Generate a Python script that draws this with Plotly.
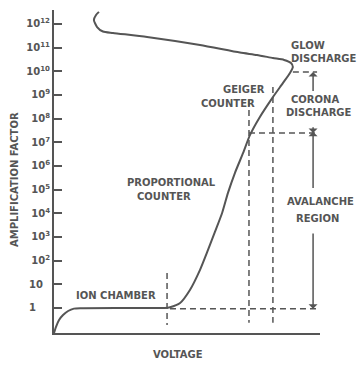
import plotly.graph_objects as go

# Characteristic curve: applied voltage (arbitrary units) vs log10 of amplification factor
voltage = [0, 0.75, 1.9, 3.4, 5.3, 7.5, 9.8, 24.8, 41.7, 43.6, 47.4, 51.1, 54.9, 57.9,
           60.5, 63.2, 65.4, 68.0, 71.1, 73.7, 77.4, 82.3, 86.1, 88.7, 89.8,
           89.1, 86.5, 82.3, 76.3, 69.9, 54.9, 35.0, 22.2, 18.4, 16.2, 15.0, 15.8, 16.9]
log_gain = [-1.06, -0.80, -0.51, -0.30, -0.13, -0.03, -0.01, 0.0, 0.0, 0.03, 0.21, 0.76,
            1.61, 2.45, 3.21, 4.01, 4.86, 5.70, 6.55, 7.31, 8.07, 8.91, 9.51,
            9.93, 10.18, 10.35, 10.48, 10.56, 10.69, 10.79, 11.11, 11.45, 11.62, 11.68,
            11.87, 12.17, 12.38, 12.51]

# Y tick labels (powers of ten), padded so they sit flush-left
tick_exponents = list(range(0, 13))
tick_labels = ["1" + "&nbsp;" * 4, "10" + "&nbsp;" * 2] + \
              [f"10<sup>{n}</sup>" for n in range(2, 13)]

# Region boundaries (voltage) and levels (log10 gain)
ion_chamber_end = 42.5
geiger_start = 73.3
geiger_end = 82.3
unity_level = -0.04
avalanche_top = 7.39
glow_level = 9.97
arrow_x = 97.4

INK = "#555555"
FONT = dict(family="DejaVu Sans", size=10, color=INK, weight="bold")

fig = go.Figure()

fig.add_trace(go.Scatter(x=voltage, y=log_gain, mode="lines",
                         line=dict(color=INK, width=2, shape="spline", smoothing=0.6),
                         hoverinfo="skip", showlegend=False))

dash = dict(color=INK, width=1.5, dash="6px,4px")
segments = [
    ([43.6, 99.6], [unity_level, unity_level]),
    ([geiger_start, geiger_start], [8.79, -0.63]),
    ([geiger_end, geiger_end], [9.34, -0.63]),
    ([geiger_start, 98.1], [avalanche_top, avalanche_top]),
    ([89.8, 98.9], [glow_level, glow_level]),
    ([ion_chamber_end, ion_chamber_end], [1.48, -0.72]),
]
for xs, ys in segments:
    fig.add_trace(go.Scatter(x=xs, y=ys, mode="lines", line=dash,
                             hoverinfo="skip", showlegend=False))

# Range arrows for the corona and avalanche regions
arrows = [
    (9.1, glow_level),
    (7.7, avalanche_top),
    (5.0, avalanche_top + 0.05),
    (3.21, unity_level),
]
for y0, y1 in arrows:
    fig.add_annotation(x=arrow_x, y=y1, ax=arrow_x, ay=y0, xref="x", yref="y",
                       axref="x", ayref="y", text="", showarrow=True,
                       arrowhead=1, arrowsize=1, arrowwidth=1.5, arrowcolor=INK)

# Region labels: (text, x as fraction of the plot width, log10 gain, anchor)
labels = [
    ("GLOW", 0.883, 11.11, "left"),
    ("DISCHARGE", 0.883, 10.52, "left"),
    ("GEIGER", 0.801, 9.25, "right"),
    ("COUNTER", 0.763, 8.66, "right"),
    ("CORONA", 0.983, 8.79, "center"),
    ("DISCHARGE", 0.998, 8.24, "center"),
    ("AVALANCHE", 1.0, 4.48, "center"),
    ("REGION", 0.991, 3.80, "center"),
    ("PROPORTIONAL", 0.44, 5.28, "center"),
    ("COUNTER", 0.414, 4.69, "center"),
    ("ION CHAMBER", 0.233, 0.51, "center"),
]
for text, x, y, anchor in labels:
    fig.add_annotation(x=x, y=y, xref="paper", yref="y", text=text, showarrow=False,
                       xanchor=anchor, yanchor="middle", font=FONT)

fig.add_annotation(x=(178 - 54) / 266, y=-(355 - 333) / 323, xref="paper", yref="paper",
                   text="VOLTAGE", showarrow=False, xanchor="center", yanchor="middle",
                   font=FONT)
fig.add_annotation(x=-(54 - 14) / 266, y=(333 - 180) / 323, xref="paper", yref="paper",
                   text="AMPLIFICATION FACTOR", textangle=-90, showarrow=False,
                   xanchor="center", yanchor="middle", font=FONT)

fig.update_layout(
    width=358, height=365,
    margin=dict(l=54, r=38, t=10, b=32),
    paper_bgcolor="white", plot_bgcolor="white",
    xaxis=dict(range=[0, 100], showgrid=False, zeroline=False, showline=True,
               linecolor=INK, linewidth=2, showticklabels=False, ticks=""),
    yaxis=dict(range=[-1.06, 12.59], showgrid=False, zeroline=False, showline=True,
               linecolor=INK, linewidth=2, tickmode="array",
               tickvals=tick_exponents, ticktext=tick_labels,
               ticks="inside", ticklen=8, tickwidth=2, tickcolor=INK,
               tickfont=FONT),
)

fig.write_html("out.html")
